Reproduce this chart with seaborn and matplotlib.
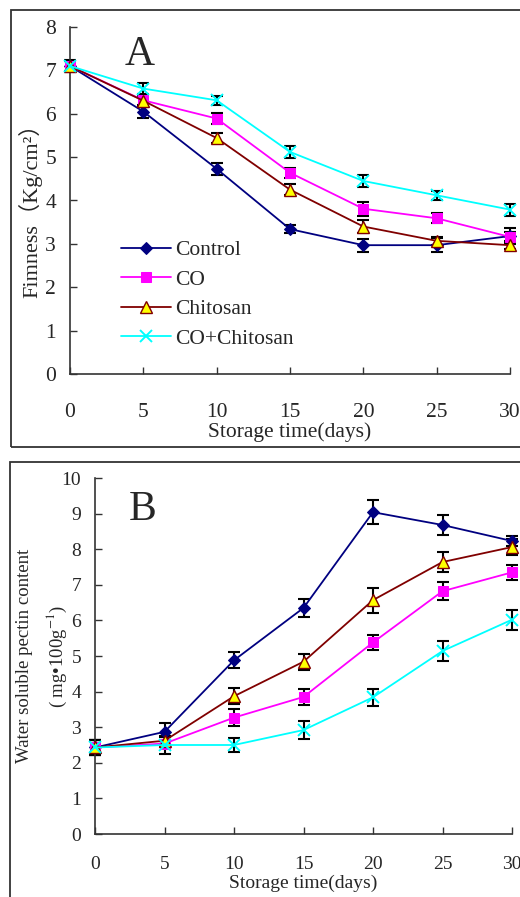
import numpy as np
import pandas as pd
import matplotlib
matplotlib.use('Agg')
import matplotlib.pyplot as plt
import matplotlib.patches as patches
import seaborn as sns

# Data
days = [0, 5, 10, 15, 20, 25, 30]
groups = ['Control', 'CO', 'Chitosan', 'CO+Chitosan']

# Panel A: firmness (Kg/cm2)
firm_control = [7.10, 6.05, 4.73, 3.34, 2.97, 2.97, 3.18]
firm_co = [7.10, 6.31, 5.89, 4.64, 3.81, 3.59, 3.16]
firm_chitosan = [7.10, 6.30, 5.44, 4.25, 3.40, 3.07, 2.97]
firm_co_chitosan = [7.10, 6.58, 6.31, 5.12, 4.45, 4.12, 3.79]
firm_err_control = [0.13, 0.14, 0.14, 0.10, 0.15, 0.16, 0.19]
firm_err_co = [0.12, 0.10, 0.13, 0.12, 0.16, 0.12, 0.12]
firm_err_chitosan = [0.12, 0.15, 0.12, 0.13, 0.15, 0.10, 0.09]
firm_err_co_chitosan = [0.12, 0.14, 0.11, 0.13, 0.13, 0.11, 0.14]

# Panel B: water soluble pectin (mg/100g)
wsp_control = [2.43, 2.87, 4.88, 6.35, 9.04, 8.68, 8.23]
wsp_co = [2.43, 2.54, 3.27, 3.85, 5.38, 6.82, 7.35]
wsp_chitosan = [2.43, 2.62, 3.87, 4.84, 6.57, 7.64, 8.06]
wsp_co_chitosan = [2.43, 2.50, 2.50, 2.92, 3.84, 5.14, 6.02]
wsp_err_control = [0.22, 0.25, 0.23, 0.25, 0.34, 0.27, 0.15]
wsp_err_co = [0.20, 0.10, 0.23, 0.22, 0.21, 0.26, 0.22]
wsp_err_chitosan = [0.20, 0.10, 0.22, 0.23, 0.35, 0.29, 0.23]
wsp_err_co_chitosan = [0.20, 0.25, 0.21, 0.26, 0.24, 0.27, 0.28]

sns.set_style('ticks')
serif = ['Liberation Serif', 'Noto Sans CJK SC', 'DejaVu Serif']
plt.rcParams['font.family'] = serif
plt.rcParams['mathtext.fontset'] = 'stix'

styles = {
    'Control': dict(color='#000080', marker='D', markersize=6, markerfacecolor='#000080', markeredgecolor='#000080'),
    'CO': dict(color='#FF00FF', marker='s', markersize=7, markerfacecolor='#FF00FF', markeredgecolor='#FF00FF'),
    'Chitosan': dict(color='#800000', marker='^', markersize=8, markerfacecolor='#FFFF00', markeredgecolor='#800000', markeredgewidth=1.0),
    'CO+Chitosan': dict(color='#00FFFF', marker='x', markersize=9, markerfacecolor='#00FFFF', markeredgecolor='#00FFFF', markeredgewidth=1.4),
}

W, H = 520, 897
fig = plt.figure(figsize=(W / 100, H / 100), dpi=100)

axA = fig.add_axes([70 / W, 1 - 374 / H, 440 / W, 347 / H])
axB = fig.add_axes([95 / W, 1 - 834 / H, 417 / W, 356 / H])


def draw_panel(ax, vals, errs):
    for g, v, e in zip(groups, vals, errs):
        df = pd.DataFrame({'day': days, 'val': v})
        ax.errorbar(days, v, yerr=e, fmt='none', ecolor='black', elinewidth=1.5,
                    capsize=4.3, capthick=1.5, zorder=2, clip_on=False)
        sns.lineplot(data=df, x='day', y='val', ax=ax, errorbar=None, linewidth=1.3,
                     label=g, zorder=3, clip_on=False, **styles[g])
    ax.set_xlim(0, 30)
    ax.set_xticks(days)
    for s in ['top', 'right']:
        ax.spines[s].set_visible(False)
    for s in ['left', 'bottom']:
        ax.spines[s].set_color('#333333')
        ax.spines[s].set_linewidth(1.2)
    ax.tick_params(direction='in', length=5, width=1.0, color='#333333')
    ax.set_xlabel('')
    ax.set_ylabel('')
    return ax


draw_panel(axA, [firm_control, firm_co, firm_chitosan, firm_co_chitosan],
           [firm_err_control, firm_err_co, firm_err_chitosan, firm_err_co_chitosan])
axA.set_ylim(0, 8)
axA.set_yticks(range(0, 9))
axA.tick_params(axis='x', pad=21, labelsize=15.5)
axA.tick_params(axis='y', pad=10, labelsize=15.5)
axA.set_xlabel('Storage time(days)', fontsize=15.5, labelpad=0)
axA.set_ylabel('Fimness（Kg/cm²）', fontsize=16)
axA.yaxis.set_label_coords(-0.062, 0.487)
axA.text(4.77, 7.35, 'A', fontsize=30, ha='center', va='center')
axA.legend(frameon=False, loc='upper left', fontsize=15.5, handlelength=2.3,
           handletextpad=0.2, labelspacing=0.44, borderpad=0, borderaxespad=0,
           bbox_to_anchor=(121 / W, 1 - 240 / H), bbox_transform=fig.transFigure)

draw_panel(axB, [wsp_control, wsp_co, wsp_chitosan, wsp_co_chitosan],
           [wsp_err_control, wsp_err_co, wsp_err_chitosan, wsp_err_co_chitosan])
axB.set_ylim(0, 10)
axB.set_yticks(range(0, 11))
axB.tick_params(axis='x', pad=16, labelsize=14)
axB.tick_params(axis='y', pad=10, labelsize=14)
axB.set_xlabel('Storage time(days)', fontsize=14, labelpad=1)
axB.text(3.45, 9.1, 'B', fontsize=30, ha='center', va='center')
axB.get_legend().remove()
fig.text(25 / W, 1 - 656 / H, 'Water soluble pectin content', rotation=90,
         ha='center', va='center', fontsize=13.5)
fig.text(57 / W, 1 - 656 / H, '( mg•100g$^{-1}$)', rotation=90,
         ha='center', va='center', fontsize=13.5)

# panel frames
fig.patches.append(patches.Rectangle((11 / W, 1 - 447 / H), 520 / W, 437 / H, fill=False,
                                     lw=1.3, edgecolor='#333333', transform=fig.transFigure))
fig.patches.append(patches.Rectangle((10 / W, -0.05), 520 / W, 0.05 + (897 - 462) / H, fill=False,
                                     lw=1.3, edgecolor='#333333', transform=fig.transFigure))

fig.savefig('out.png', dpi=100)
